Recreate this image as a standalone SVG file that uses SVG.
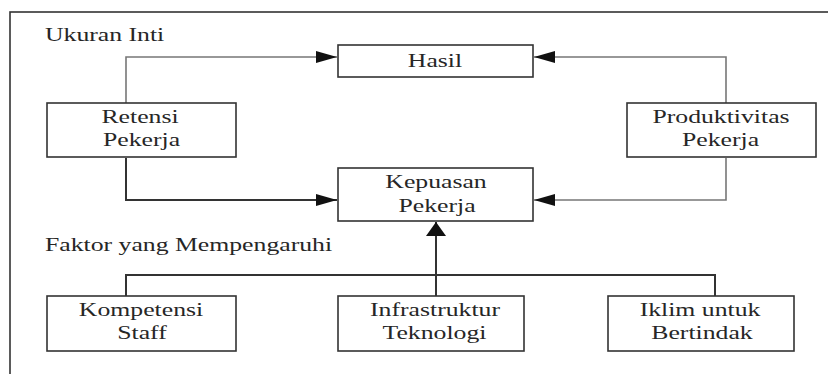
<svg xmlns="http://www.w3.org/2000/svg" width="828" height="374" viewBox="0 0 828 374">
<style>
.box{fill:#fff;stroke:#333;stroke-width:1.6}
.t{font-family:'Liberation Serif','Times New Roman',serif;font-size:18px;fill:#262626}
.c{text-anchor:middle}
.lt{fill:none;stroke:#777;stroke-width:1.6}
.dk{fill:none;stroke:#333;stroke-width:2}
</style>
<defs>
<marker id="ah" markerUnits="userSpaceOnUse" markerWidth="21" markerHeight="12" refX="21" refY="6" orient="auto">
<path d="M0,0 L21,6 L0,12 z" fill="#111"/>
</marker>
<marker id="au" markerUnits="userSpaceOnUse" markerWidth="14" markerHeight="20" refX="14" refY="10" orient="auto">
<path d="M0,0 L14,10 L0,20 z" fill="#111"/>
</marker>
</defs>
<rect width="828" height="374" fill="#fff"/>
<rect x="10" y="12" width="840" height="400" fill="none" stroke="#333" stroke-width="1.6"/>
<text class="t" transform="translate(45,41) scale(1.43,1)">Ukuran Inti</text>
<text class="t" transform="translate(45,251) scale(1.43,1)">Faktor yang Mempengaruhi</text>
<g id="connectors">
<path class="lt" d="M126,103 V57 H337" marker-end="url(#ah)"/>
<path class="lt" d="M726,103 V57 H534" marker-end="url(#ah)"/>
<path class="dk" d="M126,158 V200 H337" marker-end="url(#ah)"/>
<path class="lt" d="M726,158 V200 H534" marker-end="url(#ah)"/>
<path class="dk" d="M126,296 V275 H715 V296"/>
<path class="dk" d="M436,296 V222" marker-end="url(#au)"/>
</g>
<g id="hasil">
<rect class="box" x="338" y="45" width="195" height="32"/>
<text class="t c" transform="translate(435,67) scale(1.43,1)">Hasil</text>
</g>
<g id="retensi">
<rect class="box" x="47" y="103" width="189" height="54"/>
<text class="t c" transform="translate(140,123) scale(1.43,1)">Retensi</text>
<text class="t c" transform="translate(141.5,146) scale(1.43,1)">Pekerja</text>
</g>
<g id="produktivitas">
<rect class="box" x="627" y="103" width="189" height="54"/>
<text class="t c" transform="translate(721,123) scale(1.43,1)">Produktivitas</text>
<text class="t c" transform="translate(720.5,146) scale(1.43,1)">Pekerja</text>
</g>
<g id="kepuasan">
<rect class="box" x="338" y="168" width="195" height="53"/>
<text class="t c" transform="translate(436,188) scale(1.43,1)">Kepuasan</text>
<text class="t c" transform="translate(437,212) scale(1.43,1)">Pekerja</text>
</g>
<g id="kompetensi">
<rect class="box" x="47" y="296" width="189" height="55"/>
<text class="t c" transform="translate(141,316) scale(1.43,1)">Kompetensi</text>
<text class="t c" transform="translate(142,339) scale(1.43,1)">Staff</text>
</g>
<g id="infrastruktur">
<rect class="box" x="338" y="296" width="186" height="55"/>
<text class="t c" transform="translate(435,316) scale(1.43,1)">Infrastruktur</text>
<text class="t c" transform="translate(434.5,339) scale(1.43,1)">Teknologi</text>
</g>
<g id="iklim">
<rect class="box" x="608" y="296" width="186" height="55"/>
<text class="t c" transform="translate(700,316) scale(1.43,1)">Iklim untuk</text>
<text class="t c" transform="translate(702,339) scale(1.43,1)">Bertindak</text>
</g>
</svg>
